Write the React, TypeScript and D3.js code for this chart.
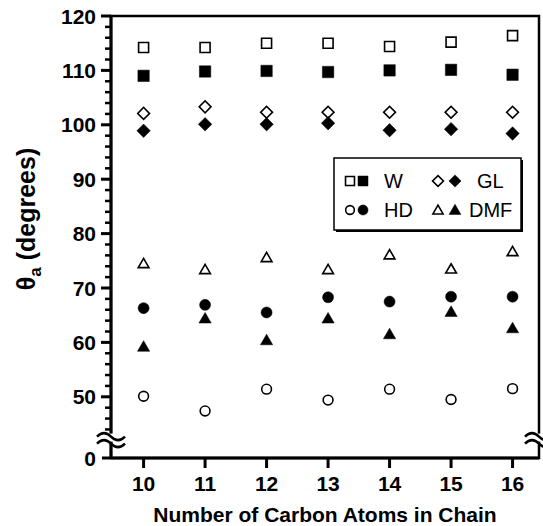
import React, { useEffect, useRef } from 'react';
import * as d3 from 'd3';

const carbons = [10, 11, 12, 13, 14, 15, 16];
const wOpen = [114.2, 114.2, 115.0, 115.0, 114.4, 115.2, 116.4];
const wFilled = [109.0, 109.8, 109.9, 109.7, 110.0, 110.1, 109.2];
const glOpen = [102.1, 103.3, 102.3, 102.3, 102.3, 102.3, 102.3];
const glFilled = [98.9, 100.1, 100.1, 100.3, 99.0, 99.2, 98.4];
const dmfOpen = [74.5, 73.4, 75.6, 73.4, 76.1, 73.5, 76.7];
const hdFilled = [66.3, 66.9, 65.5, 68.3, 67.5, 68.4, 68.4];
const dmfFilled = [59.2, 64.4, 60.4, 64.4, 61.5, 65.6, 62.6];
const hdOpen = [50.1, 47.4, 51.4, 49.4, 51.4, 49.5, 51.5];
const yMajor = [50, 60, 70, 80, 90, 100, 110, 120];

const W = 543, H = 526;
const FONT = '"Liberation Sans", Arial, Helvetica, sans-serif';

export default function App() {
  const ref = useRef<SVGSVGElement>(null);

  useEffect(() => {
    const svg = d3.select(ref.current);
    svg.selectAll('*').remove();

    const left = 111, right = 539, top = 16, bottom = 458;
    const x = d3.scaleLinear().domain([9.47, 16.43]).range([left, right]);
    const y = d3.scaleLinear().domain([38.75, 120]).range([bottom, top]);

    // frame
    svg.append('rect').attr('x', left).attr('y', top)
      .attr('width', right - left).attr('height', bottom - top)
      .attr('fill', 'none').attr('stroke', '#000').attr('stroke-width', 2.5);
    svg.append('line').attr('x1', 102).attr('x2', right).attr('y1', bottom).attr('y2', bottom)
      .attr('stroke', '#000').attr('stroke-width', 3);
    svg.append('line').attr('x1', left).attr('x2', left).attr('y1', top).attr('y2', bottom)
      .attr('stroke', '#000').attr('stroke-width', 3);

    // y ticks
    const minor = d3.range(44, 121, 2).filter(v => v % 10 !== 0);
    svg.selectAll('.ymin').data(minor).enter().append('line')
      .attr('x1', 105).attr('x2', left).attr('y1', d => y(d)).attr('y2', d => y(d))
      .attr('stroke', '#000').attr('stroke-width', 2.5);
    svg.selectAll('.ymaj').data(yMajor).enter().append('line')
      .attr('x1', 101).attr('x2', left).attr('y1', d => y(d)).attr('y2', d => y(d))
      .attr('stroke', '#000').attr('stroke-width', 3);
    svg.selectAll('.ylab').data(yMajor).enter().append('text')
      .attr('x', 96).attr('y', d => y(d)).attr('dy', '0.36em')
      .attr('text-anchor', 'end').attr('font-family', FONT).attr('font-weight', 'bold')
      .attr('font-size', 21).text(d => d);
    svg.append('text').attr('x', 96).attr('y', bottom).attr('dy', '0.36em')
      .attr('text-anchor', 'end').attr('font-family', FONT).attr('font-weight', 'bold')
      .attr('font-size', 21).text('0');

    // x ticks
    svg.selectAll('.xt').data(carbons).enter().append('line')
      .attr('x1', d => x(d)).attr('x2', d => x(d)).attr('y1', bottom).attr('y2', bottom + 10)
      .attr('stroke', '#000').attr('stroke-width', 3);
    svg.selectAll('.xlab').data(carbons).enter().append('text')
      .attr('x', d => x(d)).attr('y', bottom + 33)
      .attr('text-anchor', 'middle').attr('font-family', FONT).attr('font-weight', 'bold')
      .attr('font-size', 21).text(d => d);

    // axis breaks
    const brk = (cx: number, cy: number) => {
      const g = svg.append('g');
      g.append('rect').attr('x', cx - 4).attr('y', cy - 4).attr('width', 8).attr('height', 8).attr('fill', '#fff');
      [cy - 3, cy + 4].forEach(yy => {
        g.append('path')
          .attr('d', `M${cx - 14},${yy + 2} q7,-7 14,0 t14,0`)
          .attr('fill', 'none').attr('stroke', '#000').attr('stroke-width', 2.5);
      });
    };
    brk(left, y(42.5));
    brk(right, y(42.5));

    // axis titles
    svg.append('text').attr('x', (left + right) / 2).attr('y', 522)
      .attr('text-anchor', 'middle').attr('font-family', FONT).attr('font-weight', 'bold')
      .attr('font-size', 21).text('Number of Carbon Atoms in Chain');
    const yt = svg.append('text').attr('transform', `translate(35,219) rotate(-90)`)
      .attr('text-anchor', 'middle').attr('font-family', FONT).attr('font-weight', 'bold')
      .attr('font-size', 25);
    yt.append('tspan').text('θ');
    yt.append('tspan').attr('font-size', 17).attr('dy', 6).text('a');
    yt.append('tspan').attr('dy', -6).text(' (degrees)');

    // markers
    type S = { vals: number[]; shape: string; filled: boolean; size: number };
    const series: S[] = [
      { vals: wOpen, shape: 'square', filled: false, size: 100 },
      { vals: wFilled, shape: 'square', filled: true, size: 130 },
      { vals: glOpen, shape: 'diamond', filled: false, size: 70 },
      { vals: glFilled, shape: 'diamond', filled: true, size: 90 },
      { vals: dmfOpen, shape: 'triangle', filled: false, size: 50 },
      { vals: hdFilled, shape: 'circle', filled: true, size: 95 },
      { vals: dmfFilled, shape: 'triangle', filled: true, size: 65 },
      { vals: hdOpen, shape: 'circle', filled: false, size: 75 },
    ];
    const symType = (s: string) =>
      s === 'circle' ? d3.symbolCircle : s === 'triangle' ? d3.symbolTriangle : d3.symbolSquare;
    const drawSym = (sh: string, filled: boolean, size: number, cx: number, cy: number) => {
      const rot = sh === 'diamond' ? ' rotate(45)' : '';
      const dy = sh === 'triangle' ? 1 : 0;
      svg.append('path')
        .attr('d', d3.symbol().type(symType(sh)).size(size)())
        .attr('transform', `translate(${cx},${cy + dy})${rot}`)
        .attr('fill', filled ? '#000' : '#fff').attr('stroke', '#000')
        .attr('stroke-width', filled ? 0.5 : 1.6);
    };
    series.forEach(s => {
      s.vals.forEach((v, i) => drawSym(s.shape, s.filled, s.size, x(carbons[i]), y(v)));
    });

    // legend
    const lg = svg.append('g');
    lg.append('rect').attr('x', 336).attr('y', 160).attr('width', 187).attr('height', 72).attr('fill', '#000');
    lg.append('rect').attr('x', 334).attr('y', 158).attr('width', 187).attr('height', 72)
      .attr('fill', '#fff').attr('stroke', '#000').attr('stroke-width', 1.5);
    const legendRows = [
      { y: 181, a: 'square', b: 'diamond', la: 'W', lb: 'GL' },
      { y: 210, a: 'circle', b: 'triangle', la: 'HD', lb: 'DMF' },
    ];
    legendRows.forEach(r => {
      drawSym(r.a, false, r.a === 'square' ? 80 : 60, 350, r.y);
      drawSym(r.a, true, r.a === 'square' ? 100 : 80, 363, r.y);
      drawSym(r.b, false, r.b === 'diamond' ? 60 : 45, 438, r.y);
      drawSym(r.b, true, r.b === 'diamond' ? 75 : 60, 455, r.y);
      lg.append('text').attr('x', 384).attr('y', r.y).attr('dy', '0.36em')
        .attr('font-family', FONT).attr('font-size', 20).text(r.la);
      svg.append('text').attr('x', r.lb === 'GL' ? 477 : 469).attr('y', r.y).attr('dy', '0.36em')
        .attr('font-family', FONT).attr('font-size', 20).text(r.lb);
    });
  }, []);

  return (
    <svg ref={ref} width={W} height={H} style={{ position: 'absolute', left: 0, top: 0, background: '#fff' }} />
  );
}
